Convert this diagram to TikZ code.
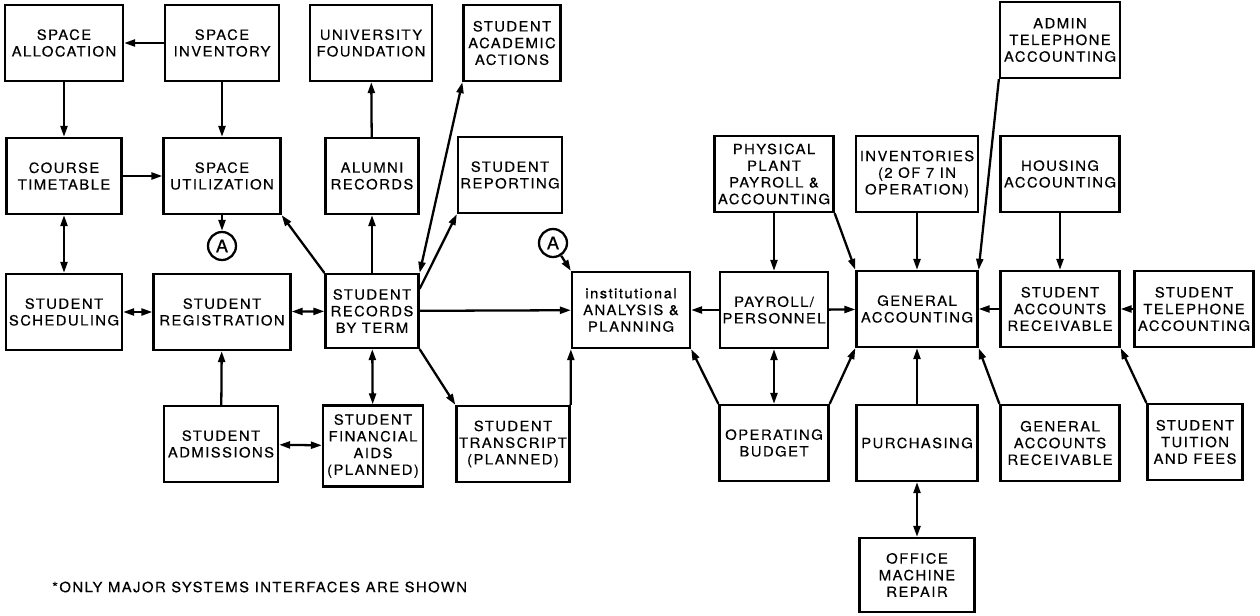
\documentclass[tikz,border=0pt]{standalone}
\usepackage{fontspec}
\usepackage{tikz}
\usetikzlibrary{arrows.meta,positioning}
\newfontfamily\boxfont[LetterSpace=10,FakeStretch=1.06,FakeBold=0.3]{TeX Gyre Heros}

\tikzset{
  sysbox/.style={draw, line width=1.3pt, align=center, inner sep=0.5pt,
    minimum width=2.36cm, minimum height=1.52cm,
    font={\fontsize{8pt}{9.5pt}\selectfont\boxfont}},
  tag/.style={draw, circle, line width=1.3pt, minimum size=0.56cm, inner sep=0pt,
    font={\fontsize{10pt}{10pt}\selectfont\boxfont}},
  link/.style={line width=1.3pt}
}

\begin{document}
\begin{tikzpicture}[x=0.02cm,y=-0.02cm,>={Triangle[length=2.2mm,width=1.4mm]}]
\useasboundingbox (0,0) rectangle (1260,615);

% top row
\node[sysbox] at (64,43) (alloc) {SPACE\\ALLOCATION};
\node[sysbox, minimum width=2.28cm] at (222,43) (inv) {SPACE\\INVENTORY};
\node[sysbox, minimum width=2.44cm] at (371,43) (found) {UNIVERSITY\\FOUNDATION};
\node[sysbox, minimum width=1.94cm] at (512,43) (acad) {STUDENT\\ACADEMIC\\ACTIONS};
\node[sysbox, minimum width=2.4cm] at (1060,40) (admtel) {ADMIN\\TELEPHONE\\ACCOUNTING};

% second row
\node[sysbox, minimum width=2.3cm] at (64,176) (timetab) {COURSE\\TIMETABLE};
\node[sysbox, minimum width=2.34cm] at (222,176) (util) {SPACE\\UTILIZATION};
\node[sysbox, minimum width=1.86cm] at (372,176) (alumni) {ALUMNI\\RECORDS};
\node[sysbox, minimum width=2.08cm] at (510,175) (report) {STUDENT\\REPORTING};
\node[sysbox, minimum width=2.38cm] at (774,174) (plant) {PHYSICAL\\PLANT\\PAYROLL \&\\ACCOUNTING};
\node[sysbox, minimum width=2.44cm] at (917,174) (invent) {INVENTORIES\\(2 OF 7 IN\\OPERATION)};
\node[sysbox, minimum width=2.38cm] at (1060,174) (housing) {HOUSING\\ACCOUNTING};

\node[tag] at (222,246) (tagA) {A};
\node[tag] at (553,243) (tagB) {A};

% third row
\node[sysbox, minimum width=2.32cm] at (64,312) (sched) {STUDENT\\SCHEDULING};
\node[sysbox, minimum width=2.74cm] at (222,312) (reg) {STUDENT\\REGISTRATION};
\node[sysbox, minimum width=1.86cm, minimum height=1.48cm] at (372,311) (recs) {STUDENT\\RECORDS\\BY TERM};
\node[sysbox] at (631,310) (inst) {institutional\\ANALYSIS \&\\PLANNING};
\node[sysbox, minimum width=2.16cm] at (774,310) (payroll) {PAYROLL/\\PERSONNEL};
\node[sysbox, minimum width=2.42cm] at (917,309) (genacc) {GENERAL\\ACCOUNTING};
\node[sysbox, minimum width=2.38cm] at (1060,309) (sar) {STUDENT\\ACCOUNTS\\RECEIVABLE};
\node[sysbox, minimum width=2.38cm] at (1194,309) (stel) {STUDENT\\TELEPHONE\\ACCOUNTING};

% fourth row
\node[sysbox, minimum width=2.28cm] at (221,444) (adm) {STUDENT\\ADMISSIONS};
\node[sysbox, minimum width=2cm, minimum height=1.62cm] at (373,446) (aids) {STUDENT\\FINANCIAL\\AIDS\\(PLANNED)};
\node[sysbox, minimum width=2.26cm] at (513,444) (trans) {STUDENT\\TRANSCRIPT\\(PLANNED)};
\node[sysbox, minimum width=2.18cm] at (774,443) (budget) {OPERATING\\BUDGET};
\node[sysbox, minimum width=2.42cm] at (917,443) (purch) {PURCHASING};
\node[sysbox, minimum width=2.38cm] at (1060,443) (gar) {GENERAL\\ACCOUNTS\\RECEIVABLE};
\node[sysbox, minimum width=1.9cm] at (1195,442) (tuit) {STUDENT\\TUITION\\AND FEES};

\node[sysbox, minimum width=2.3cm, minimum height=1.48cm] at (917,575) (omr) {OFFICE\\MACHINE\\REPAIR};

\node[font={\fontsize{8pt}{9pt}\selectfont\boxfont}, anchor=west] at (46,587) (note) {*ONLY MAJOR SYSTEMS INTERFACES ARE SHOWN};

\path[link,->]
(inv) edge (alloc)
(alloc) edge (timetab)
(inv) edge (util)
(timetab) edge (util)
(timetab) edge[<->] (sched)
(util) edge (tagA)
(sched) edge[<->] (reg)
(reg) edge[<->] (recs)
(adm) edge (reg)
(adm) edge[<->] (aids)
(recs) edge[<->] (aids)
(recs.north west) edge (util.south east)
(recs) edge (alumni)
(alumni) edge (found)
(recs.north east) edge[<->] (acad.south west)
([yshift=-0.32cm]recs.north east) edge (report.south west)
(recs) edge (inst)
(recs.south east) edge (trans.north west)
(trans.north east) edge (inst.south west)
(tagB) edge (inst.north west)
(payroll) edge (inst)
(payroll) edge (genacc)
(plant) edge (payroll)
(payroll) edge[<->] (budget)
(budget.north west) edge (inst.south east)
(budget.north east) edge (genacc.south west)
(plant.south east) edge (genacc.north west)
(invent) edge (genacc)
(admtel.south west) edge (genacc.north east)
(housing) edge (sar)
(sar) edge (genacc)
(stel) edge (sar)
(tuit.north west) edge (sar.south east)
(gar.north west) edge (genacc.south east)
(purch) edge (genacc)
(purch) edge[<->] (omr)
;
\end{tikzpicture}
\end{document}
